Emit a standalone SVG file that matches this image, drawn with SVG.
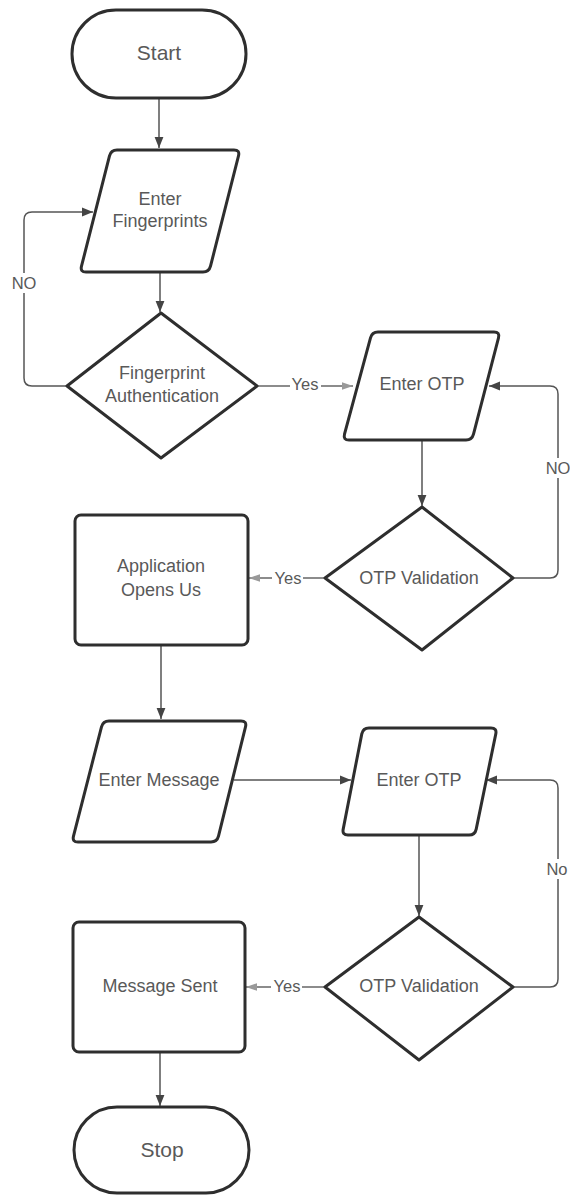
<svg xmlns="http://www.w3.org/2000/svg" width="570" height="1195" viewBox="0 0 570 1195">
<style>
.node{fill:#fff;stroke:#2e2e2e;stroke-width:3;stroke-linejoin:round}
.t{font-family:"Liberation Sans",Arial,sans-serif;font-size:18px;fill:#595959;text-anchor:middle;dominant-baseline:central}
.big{font-size:21px}
.lbl{font-family:"Liberation Sans",Arial,sans-serif;font-size:16.5px;fill:#595959;text-anchor:middle;dominant-baseline:central}
.c{fill:none;stroke:#555;stroke-width:1.5}
.cy{fill:none;stroke:#666;stroke-width:1.5}
.bg{fill:#fff}
</style>
<defs>
<marker id="ah" viewBox="0 0 10 10" refX="10" refY="5" markerWidth="11" markerHeight="11" markerUnits="userSpaceOnUse" orient="auto">
<path d="M0,1 L10,5 L0,9 z" fill="#444"/>
</marker>
<marker id="ahg" viewBox="0 0 10 10" refX="10" refY="5" markerWidth="11" markerHeight="11" markerUnits="userSpaceOnUse" orient="auto">
<path d="M0,1.5 L10,5 L0,8.5 z" fill="#999"/>
</marker>
</defs>
<rect width="570" height="1195" fill="#fff"/>

<g id="connectors">
<path class="c" d="M159,98 V148" marker-end="url(#ah)"/>
<path class="c" d="M160,272 V312" marker-end="url(#ah)"/>
<path class="c" d="M67,386 H32 Q24,386 24,378 V220 Q24,212 32,212 H93" marker-end="url(#ah)"/>
<rect class="bg" x="10" y="273" width="28" height="20"/>
<text class="lbl" x="24" y="283">NO</text>
<path class="cy" d="M257,386 H353" marker-end="url(#ahg)"/>
<rect class="bg" x="290" y="376" width="31" height="18"/>
<text class="lbl" x="305" y="384">Yes</text>
<path class="c" d="M422,440 V506" marker-end="url(#ah)"/>
<path class="c" d="M513,578 H550 Q558,578 558,570 V394 Q558,386 550,386 H489" marker-end="url(#ah)"/>
<rect class="bg" x="545" y="458" width="26" height="20"/>
<text class="lbl" x="558" y="468">NO</text>
<path class="cy" d="M325,578 H249" marker-end="url(#ahg)"/>
<rect class="bg" x="272" y="570" width="31" height="18"/>
<text class="lbl" x="288" y="578">Yes</text>
<path class="c" d="M161,645 V719" marker-end="url(#ah)"/>
<path class="c" d="M234,780 H351" marker-end="url(#ah)"/>
<path class="c" d="M419,835 V916" marker-end="url(#ah)"/>
<path class="c" d="M513,987 H550 Q558,987 558,979 V788 Q558,780 550,780 H486" marker-end="url(#ah)"/>
<rect class="bg" x="545" y="859" width="26" height="20"/>
<text class="lbl" x="557" y="869">No</text>
<path class="cy" d="M325,987 H246" marker-end="url(#ahg)"/>
<rect class="bg" x="271" y="978" width="31" height="18"/>
<text class="lbl" x="287" y="986">Yes</text>
<path class="c" d="M160,1052 V1106" marker-end="url(#ah)"/>
</g>

<g id="start">
<rect class="node" x="72" y="10" width="174" height="88" rx="44"/>
<text class="t big" x="159" y="52">Start</text>
</g>

<g id="enter-fingerprints">
<path class="node" d="M117,150 H234 Q240,150 238.5,155.8 L210.5,266.2 Q209,272 203,272 H86 Q80,272 81.5,266.2 L109.5,155.8 Q111,150 117,150 Z"/>
<text class="t" x="160" y="199">Enter</text>
<text class="t" x="160" y="221">Fingerprints</text>
</g>

<g id="fingerprint-auth">
<polygon class="node" points="161,313 257,386 161,458 67,386"/>
<text class="t" x="162" y="373">Fingerprint</text>
<text class="t" x="162" y="396">Authentication</text>
</g>

<g id="enter-otp-1">
<path class="node" d="M378,332 H494 Q500,332 498.5,337.8 L473.5,434.2 Q472,440 466,440 H349 Q343,440 344.5,434.2 L370.5,337.8 Q372,332 378,332 Z"/>
<text class="t" x="422" y="384">Enter OTP</text>
</g>

<g id="otp-validation-1">
<polygon class="node" points="422,507 513,578 422,650 325,578"/>
<text class="t" x="419" y="578">OTP Validation</text>
</g>

<g id="application-opens">
<rect class="node" x="75" y="515" width="173" height="130" rx="6"/>
<text class="t" x="161" y="566">Application</text>
<text class="t" x="161" y="590">Opens Us</text>
</g>

<g id="enter-message">
<path class="node" d="M109,721 H241 Q247,721 245.5,726.8 L218.5,836.2 Q217,842 211,842 H78 Q72,842 73.5,836.2 L101.5,726.8 Q103,721 109,721 Z"/>
<text class="t" x="159" y="780">Enter Message</text>
</g>

<g id="enter-otp-2">
<path class="node" d="M369,728 H491 Q497,728 495.8,733.9 L476.2,829.1 Q475,835 469,835 H348 Q342,835 343.2,829.1 L361.8,733.9 Q363,728 369,728 Z"/>
<text class="t" x="419" y="780">Enter OTP</text>
</g>

<g id="otp-validation-2">
<polygon class="node" points="419,917 513,987 419,1060 325,987"/>
<text class="t" x="419" y="986">OTP Validation</text>
</g>

<g id="message-sent">
<rect class="node" x="73" y="922" width="172" height="130" rx="6"/>
<text class="t" x="160" y="986">Message Sent</text>
</g>

<g id="stop">
<rect class="node" x="74" y="1107" width="175" height="86" rx="43"/>
<text class="t big" x="162" y="1149">Stop</text>
</g>
</svg>
